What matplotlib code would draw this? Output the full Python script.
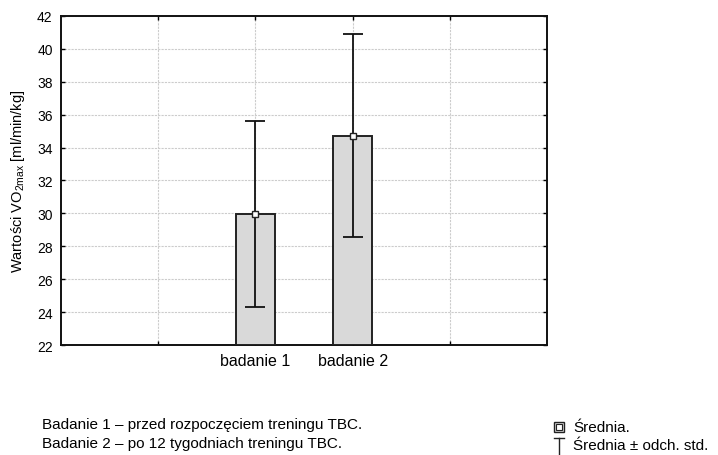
import matplotlib
matplotlib.use('Agg')
import matplotlib.pyplot as plt
from matplotlib.patches import Rectangle
from matplotlib.lines import Line2D
import numpy as np

plt.rcParams['font.family'] = ['Liberation Sans', 'DejaVu Sans']

# --- data ---
categories = ["badanie 1", "badanie 2"]
means = [29.97, 34.73]
sds = [5.65, 6.19]
y_ticks = [22, 24, 26, 28, 30, 32, 34, 36, 38, 40, 42]
notes = [
    "Badanie 1 \u2013 przed rozpocz\u0119ciem treningu TBC.",
    "Badanie 2 \u2013 po 12 tygodniach treningu TBC.",
]
legend_labels = ["\u015arednia.", "\u015arednia \u00b1 odch. std."]

ymin, ymax = 22, 42
pos = np.arange(len(categories))

fig = plt.figure(figsize=(7.18, 4.56), dpi=100)
ax = fig.add_axes([0.085, 0.241, 0.677, 0.722])

# bars start at the axis floor
heights = [m - ymin for m in means]
ax.bar(pos, heights, bottom=ymin, width=0.4, color="#d9d9d9",
       edgecolor="#222222", linewidth=1.4, zorder=3)
ax.errorbar(pos, means, yerr=sds, fmt="none", ecolor="#111111",
            elinewidth=1.3, capsize=7, capthick=1.3, zorder=4)
ax.plot(pos, means, linestyle="none", marker="s", markersize=5,
        markerfacecolor="white", markeredgecolor="#222222",
        markeredgewidth=1.0, zorder=5)

ax.set_xlim(-2, 3)
ax.set_ylim(ymin, ymax)
ax.set_yticks(y_ticks)
ax.set_xticks(pos)
ax.set_xticklabels(categories, fontsize=11.5)
ax.set_xticks([-1, 2], minor=True)
ax.tick_params(axis="y", labelsize=10)
ax.tick_params(which="both", direction="in", top=True, right=True,
               length=3, width=1.0, pad=6)
ax.tick_params(axis="x", which="minor", length=3)
ax.grid(which="both", color="#cccccc", linestyle=(0, (2, 1)),
        linewidth=0.8, zorder=0)
ax.set_axisbelow(True)
for spine in ax.spines.values():
    spine.set_linewidth(1.4)
    spine.set_color("#111111")

ax.set_ylabel("Warto\u015bci VO$_{\\mathregular{2max}}$ [ml/min/kg]",
              fontsize=10.5, labelpad=7)

# --- footer notes ---
fig.text(0.058, 0.068, notes[0], fontsize=11, va="center", ha="left")
fig.text(0.058, 0.027, notes[1], fontsize=11, va="center", ha="left")

# --- custom legend ---
px = 1.0 / 718
py = 1.0 / 456
sq_x, sq_y = 559, 428
fig.add_artist(Rectangle(((sq_x - 5) * px, 1 - (sq_y + 5) * py),
                         10 * px, 10 * py, facecolor="#d9d9d9",
                         edgecolor="#222222", linewidth=1.0,
                         transform=fig.transFigure))
fig.add_artist(Line2D([sq_x * px], [1 - sq_y * py], marker="s",
                      markersize=4, markerfacecolor="white",
                      markeredgecolor="#222222", markeredgewidth=0.8,
                      linestyle="none", transform=fig.transFigure))
fig.text(573 * px, 1 - 428 * py, legend_labels[0], fontsize=11,
         va="center", ha="left")

t_x, t_top, t_bot = 559, 439, 455
fig.add_artist(Line2D([t_x * px, t_x * px], [1 - t_top * py, 1 - t_bot * py],
                      color="#222222", linewidth=1.0, transform=fig.transFigure))
fig.add_artist(Line2D([(t_x - 5) * px, (t_x + 5) * px],
                      [1 - t_top * py, 1 - t_top * py],
                      color="#222222", linewidth=1.0, transform=fig.transFigure))
fig.text(573 * px, 1 - 446 * py, legend_labels[1], fontsize=11,
         va="center", ha="left")

fig.savefig("out.png", dpi=100)
